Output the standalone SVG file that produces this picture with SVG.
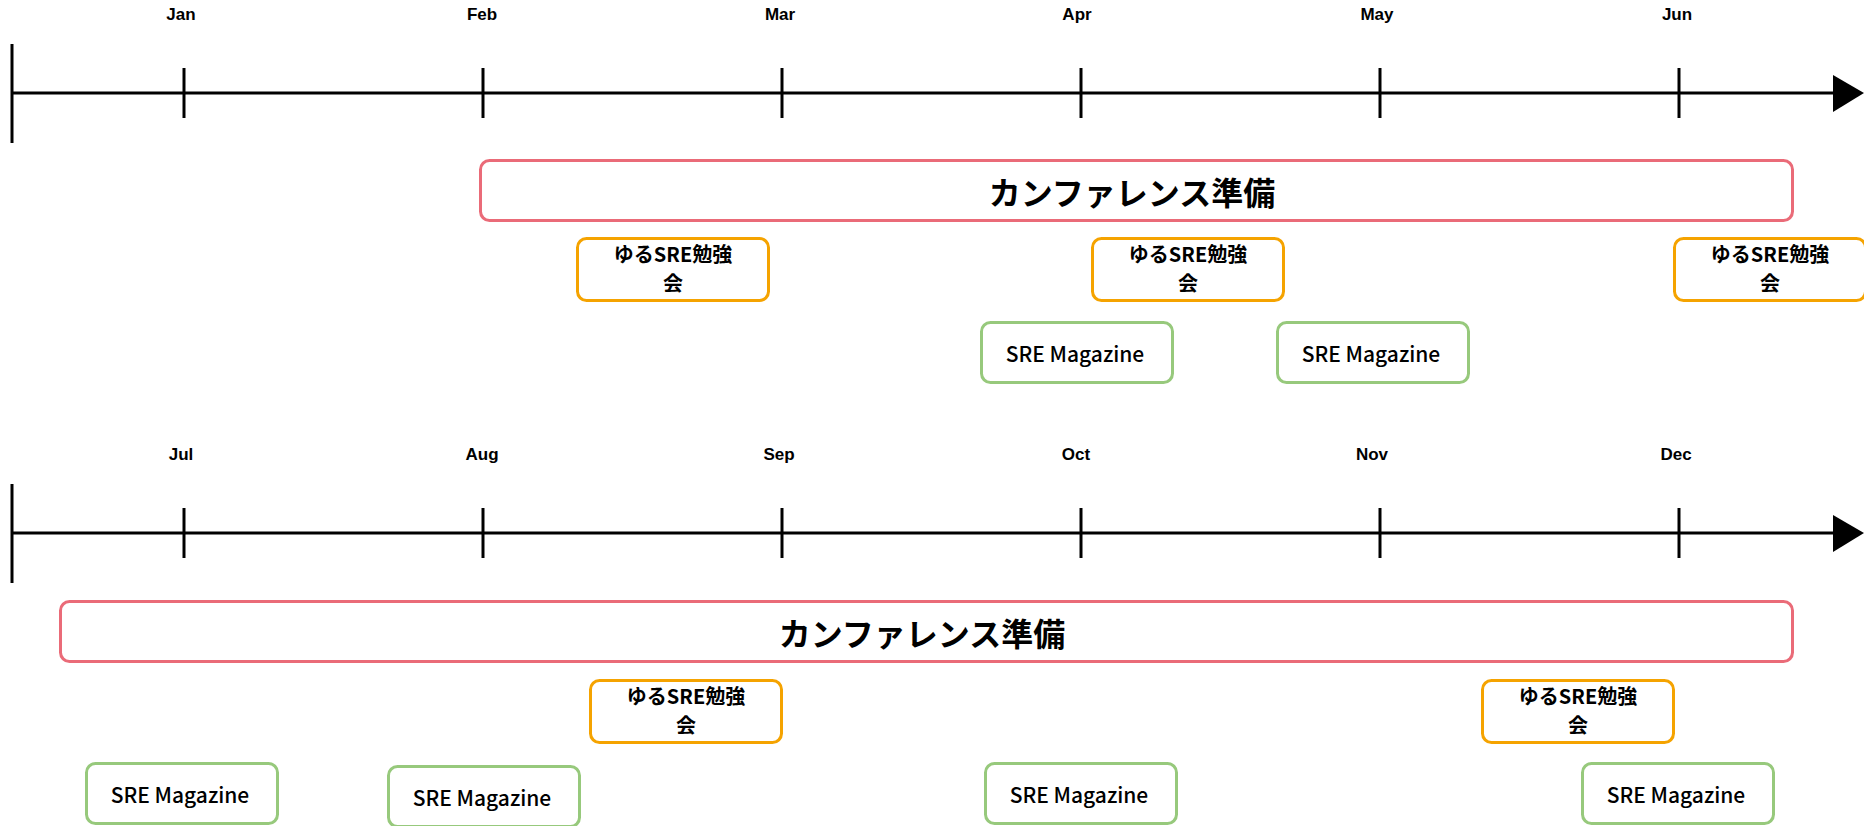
<svg xmlns="http://www.w3.org/2000/svg" width="1864" height="826" viewBox="0 0 1864 826">
<style>
.ax{stroke:#000;stroke-width:3;fill:none}
.mon{font-family:"Liberation Sans","Noto Sans CJK JP",sans-serif;font-size:17px;font-weight:bold;fill:#000;text-anchor:middle}
.conf{fill:#fff;stroke:#EA6B78;stroke-width:3}
.study{fill:#fff;stroke:#F5A300;stroke-width:3}
.mag{fill:#fff;stroke:#97C97C;stroke-width:3}
.tc{font-family:"Noto Sans CJK JP","Noto Sans",sans-serif;font-size:32px;font-weight:bold;fill:#000;text-anchor:middle;dominant-baseline:central}
.ts{font-family:"Noto Sans CJK JP","Noto Sans",sans-serif;font-size:20px;font-weight:bold;fill:#000;text-anchor:middle}
.tm{font-family:"Noto Sans CJK JP","Noto Sans",sans-serif;font-size:21px;font-weight:500;fill:#000;text-anchor:middle;dominant-baseline:central}
</style>
<g id="connectors">
  <g id="axis1">
    <line class="ax" x1="12" y1="44" x2="12" y2="143"/>
    <line class="ax" x1="12" y1="93" x2="1836" y2="93"/>
    <polygon points="1833,75 1864,93 1833,112" fill="#000"/>
    <line class="ax" x1="184" y1="68" x2="184" y2="118"/>
    <line class="ax" x1="483" y1="68" x2="483" y2="118"/>
    <line class="ax" x1="782" y1="68" x2="782" y2="118"/>
    <line class="ax" x1="1081" y1="68" x2="1081" y2="118"/>
    <line class="ax" x1="1380" y1="68" x2="1380" y2="118"/>
    <line class="ax" x1="1679" y1="68" x2="1679" y2="118"/>
  </g>
  <g id="axis2">
    <line class="ax" x1="12" y1="484" x2="12" y2="583"/>
    <line class="ax" x1="12" y1="533" x2="1836" y2="533"/>
    <polygon points="1833,515 1864,533 1833,552" fill="#000"/>
    <line class="ax" x1="184" y1="508" x2="184" y2="558"/>
    <line class="ax" x1="483" y1="508" x2="483" y2="558"/>
    <line class="ax" x1="782" y1="508" x2="782" y2="558"/>
    <line class="ax" x1="1081" y1="508" x2="1081" y2="558"/>
    <line class="ax" x1="1380" y1="508" x2="1380" y2="558"/>
    <line class="ax" x1="1679" y1="508" x2="1679" y2="558"/>
  </g>
</g>
<g id="months">
  <text class="mon" x="181" y="20">Jan</text>
  <text class="mon" x="482" y="20">Feb</text>
  <text class="mon" x="780" y="20">Mar</text>
  <text class="mon" x="1077" y="20">Apr</text>
  <text class="mon" x="1377" y="20">May</text>
  <text class="mon" x="1677" y="20">Jun</text>
  <text class="mon" x="181" y="460">Jul</text>
  <text class="mon" x="482" y="460">Aug</text>
  <text class="mon" x="779" y="460">Sep</text>
  <text class="mon" x="1076" y="460">Oct</text>
  <text class="mon" x="1372" y="460">Nov</text>
  <text class="mon" x="1676" y="460">Dec</text>
</g>
<g id="conf1"><rect class="conf" x="480.5" y="160.5" width="1312" height="60" rx="9"/><text class="tc" x="1132" y="191">カンファレンス準備</text></g>
<g id="study1"><rect class="study" x="577.5" y="238.5" width="191" height="62" rx="9"/><text class="ts" x="673" y="262">ゆるSRE勉強<tspan x="673" dy="29">会</tspan></text></g>
<g id="study2"><rect class="study" x="1092.5" y="238.5" width="191" height="62" rx="9"/><text class="ts" x="1188" y="262">ゆるSRE勉強<tspan x="1188" dy="29">会</tspan></text></g>
<g id="study3"><rect class="study" x="1674.5" y="238.5" width="191" height="62" rx="9"/><text class="ts" x="1770" y="262">ゆるSRE勉強<tspan x="1770" dy="29">会</tspan></text></g>
<g id="mag1"><rect class="mag" x="981.5" y="322.5" width="191" height="60" rx="9"/><text class="tm" x="1075" y="353">SRE Magazine</text></g>
<g id="mag2"><rect class="mag" x="1277.5" y="322.5" width="191" height="60" rx="9"/><text class="tm" x="1371" y="353">SRE Magazine</text></g>
<g id="conf2"><rect class="conf" x="60.5" y="601.5" width="1732" height="60" rx="9"/><text class="tc" x="922" y="632">カンファレンス準備</text></g>
<g id="study4"><rect class="study" x="590.5" y="680.5" width="191" height="62" rx="9"/><text class="ts" x="686" y="704">ゆるSRE勉強<tspan x="686" dy="29">会</tspan></text></g>
<g id="study5"><rect class="study" x="1482.5" y="680.5" width="191" height="62" rx="9"/><text class="ts" x="1578" y="704">ゆるSRE勉強<tspan x="1578" dy="29">会</tspan></text></g>
<g id="mag3"><rect class="mag" x="86.5" y="763.5" width="191" height="60" rx="9"/><text class="tm" x="180" y="794">SRE Magazine</text></g>
<g id="mag4"><rect class="mag" x="388.5" y="766.5" width="191" height="60" rx="9"/><text class="tm" x="482" y="797">SRE Magazine</text></g>
<g id="mag5"><rect class="mag" x="985.5" y="763.5" width="191" height="60" rx="9"/><text class="tm" x="1079" y="794">SRE Magazine</text></g>
<g id="mag6"><rect class="mag" x="1582.5" y="763.5" width="191" height="60" rx="9"/><text class="tm" x="1676" y="794">SRE Magazine</text></g>
</svg>
